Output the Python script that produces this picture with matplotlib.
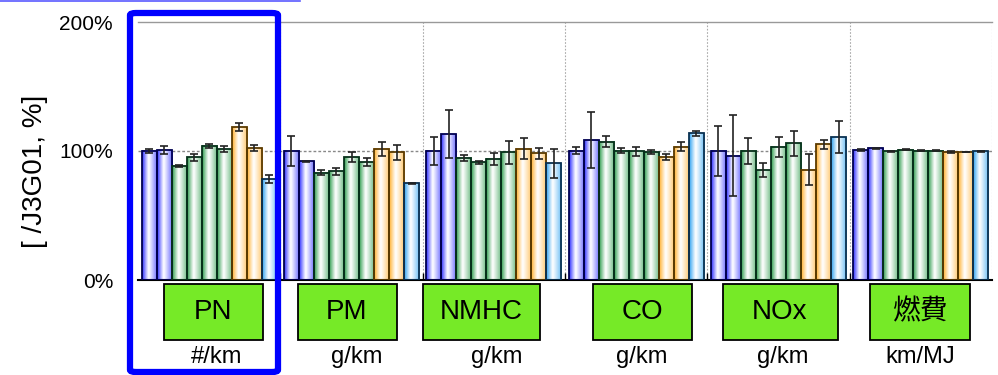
import numpy as np
import matplotlib
matplotlib.use("Agg")
import matplotlib.pyplot as plt
from matplotlib.patches import Rectangle, FancyBboxPatch
from matplotlib.lines import Line2D
from matplotlib.colors import to_rgb

plt.rcParams['font.family'] = ['Liberation Sans', 'Noto Sans CJK JP', 'DejaVu Sans']

# 測定項目と単位
categories = ["PN", "PM", "NMHC", "CO", "NOx", "燃費"]
units = ["#/km", "g/km", "g/km", "g/km", "g/km", "km/MJ"]

# J3G01 を 100% とした比率 (各項目 9 本)
pn = [100.2, 100.7, 88.4, 95.1, 104.1, 101.3, 118.4, 102.3, 78.1]
pm = [100.2, 92.0, 83.2, 84.2, 95.1, 91.2, 101.8, 99.0, 75.0]
nmhc = [100.2, 112.9, 94.8, 91.2, 93.8, 99.0, 101.8, 98.2, 90.4]
co = [100.2, 108.3, 107.2, 100.2, 99.7, 99.2, 95.6, 103.3, 113.7]
nox = [100.2, 96.4, 100.2, 85.0, 103.3, 106.0, 85.5, 105.2, 110.6]
fuel = [100.5, 102.1, 99.7, 101.0, 100.3, 100.2, 99.2, 99.2, 99.7]

# 誤差 (±%)
pn_err = [1.5, 2.8, 1.0, 2.8, 1.7, 2.2, 3.0, 2.2, 3.0]
pm_err = [11.6, 0.3, 2.0, 3.0, 4.0, 3.2, 5.3, 5.7, 0.3]
nmhc_err = [11.0, 18.6, 2.3, 1.0, 5.0, 8.8, 7.9, 4.3, 11.1]
co_err = [2.8, 21.8, 4.3, 1.9, 3.7, 1.8, 2.2, 3.5, 1.9]
nox_err = [19.4, 31.4, 10.0, 5.4, 7.9, 9.6, 11.8, 3.6, 12.5]
fuel_err = [0.8, 0.4, 0.3, 0.4, 0.4, 0.4, 0.6, 0.3, 0.4]

values = [pn, pm, nmhc, co, nox, fuel]
errors = [pn_err, pm_err, nmhc_err, co_err, nox_err, fuel_err]

# 棒の色 (左から: 青2本, 緑4本, 橙2本, 水色1本)
bar_colors = ["#2a2aff", "#2a2aff", "#2a9a4a", "#2a9a4a", "#2a9a4a", "#2a9a4a",
              "#ffae2a", "#ffae2a", "#2aa0f0"]
edge_colors = ["#000050", "#000050", "#06301a", "#06301a", "#06301a", "#06301a",
               "#5a3a00", "#5a3a00", "#0a3050"]

W, H = 998, 375
fig = plt.figure(figsize=(W / 100, H / 100), dpi=100)


def fx(px):
    return px / W


def fy(py):
    return 1 - py / H


ax = fig.add_axes([fx(138), fy(280), fx(992) - fx(138), fy(22) - fy(280)])

n_bars = len(pn)
bw = 0.95 / n_bars
t = np.linspace(0, 1, 64)
shade = np.where(t < 0.42, (0.42 - t) / 0.42, 0.75 * (t - 0.42) / 0.58) ** 1.1

for g, (vals, errs) in enumerate(zip(values, errors)):
    x0 = g + (1 - bw * n_bars) / 2
    lefts = x0 + bw * np.arange(n_bars)
    for j in range(n_bars):
        base = np.array(to_rgb(bar_colors[j]))
        grad = (1 - shade[:, None]) * 1.0 + shade[:, None] * base
        ax.imshow(grad[None, :, :], extent=[lefts[j], lefts[j] + bw, 0, vals[j]],
                  aspect='auto', interpolation='bilinear', zorder=2)
    ax.bar(lefts, vals, width=bw, align='edge', fill=False,
           edgecolor=edge_colors, linewidth=1.3, zorder=3)
    ax.errorbar(lefts + bw / 2, vals, yerr=errs, fmt='none', ecolor='#222222',
                elinewidth=1.2, capsize=3, capthick=1.2, zorder=4)

ax.set_xlim(0, 6)
ax.set_ylim(0, 200)

# 補助線
ax.axhline(100, color='#888888', lw=1.0, ls=(0, (2, 1.5)), zorder=1)
for g in range(1, 7):
    ax.axvline(g, color='#aaaaaa', lw=0.8, ls=(0, (1.5, 1.5)), zorder=1)

for side in ['left', 'right']:
    ax.spines[side].set_visible(False)
ax.spines['top'].set_color('#999999')
ax.spines['top'].set_linewidth(1.0)
ax.spines['bottom'].set_color('black')
ax.spines['bottom'].set_linewidth(1.5)

ax.set_yticks([0, 100, 200])
ax.set_yticklabels(["0%", "100%", "200%"], fontsize=15)
ax.tick_params(axis='y', length=0, pad=18)
ax.set_xticks(range(1, 6))
ax.set_xticklabels([])
ax.tick_params(axis='x', direction='in', length=5, width=1, color='black')

ax.set_ylabel("[ /J3G01, %]", fontsize=20)
ax.yaxis.set_label_coords(-0.105, 0.42)

# 項目ラベル (緑の箱) と単位
box_cx = [213, 347, 481, 642, 780, 920]
box_w = [99, 99, 117, 99, 115, 100]
unit_cx = [217, 357, 497, 642, 783, 920]
for name, unit, cx, bwid, ux in zip(categories, units, box_cx, box_w, unit_cx):
    fig.patches.append(Rectangle((fx(cx - bwid / 2), fy(340)), fx(bwid), fy(284) - fy(340),
                                 transform=fig.transFigure, facecolor='#76ea27',
                                 edgecolor='black', lw=1.3))
    fig.text(fx(cx), fy(312), name, fontsize=20, ha='center', va='center')
    fig.text(fx(ux), fy(357), unit, fontsize=17, ha='center', va='center')

# PN 強調枠
fig.patches.append(FancyBboxPatch((fx(130), fy(372)), fx(148), fy(13) - fy(372),
                                  boxstyle="round,pad=0,rounding_size=0.006",
                                  transform=fig.transFigure, fill=False,
                                  edgecolor='#0000ff', lw=4.5, zorder=10))
fig.lines.append(Line2D([0, fx(300)], [fy(0.5), fy(0.5)], transform=fig.transFigure,
                        color='#5a5aff', lw=1.2))

fig.savefig("out.png", dpi=100)
